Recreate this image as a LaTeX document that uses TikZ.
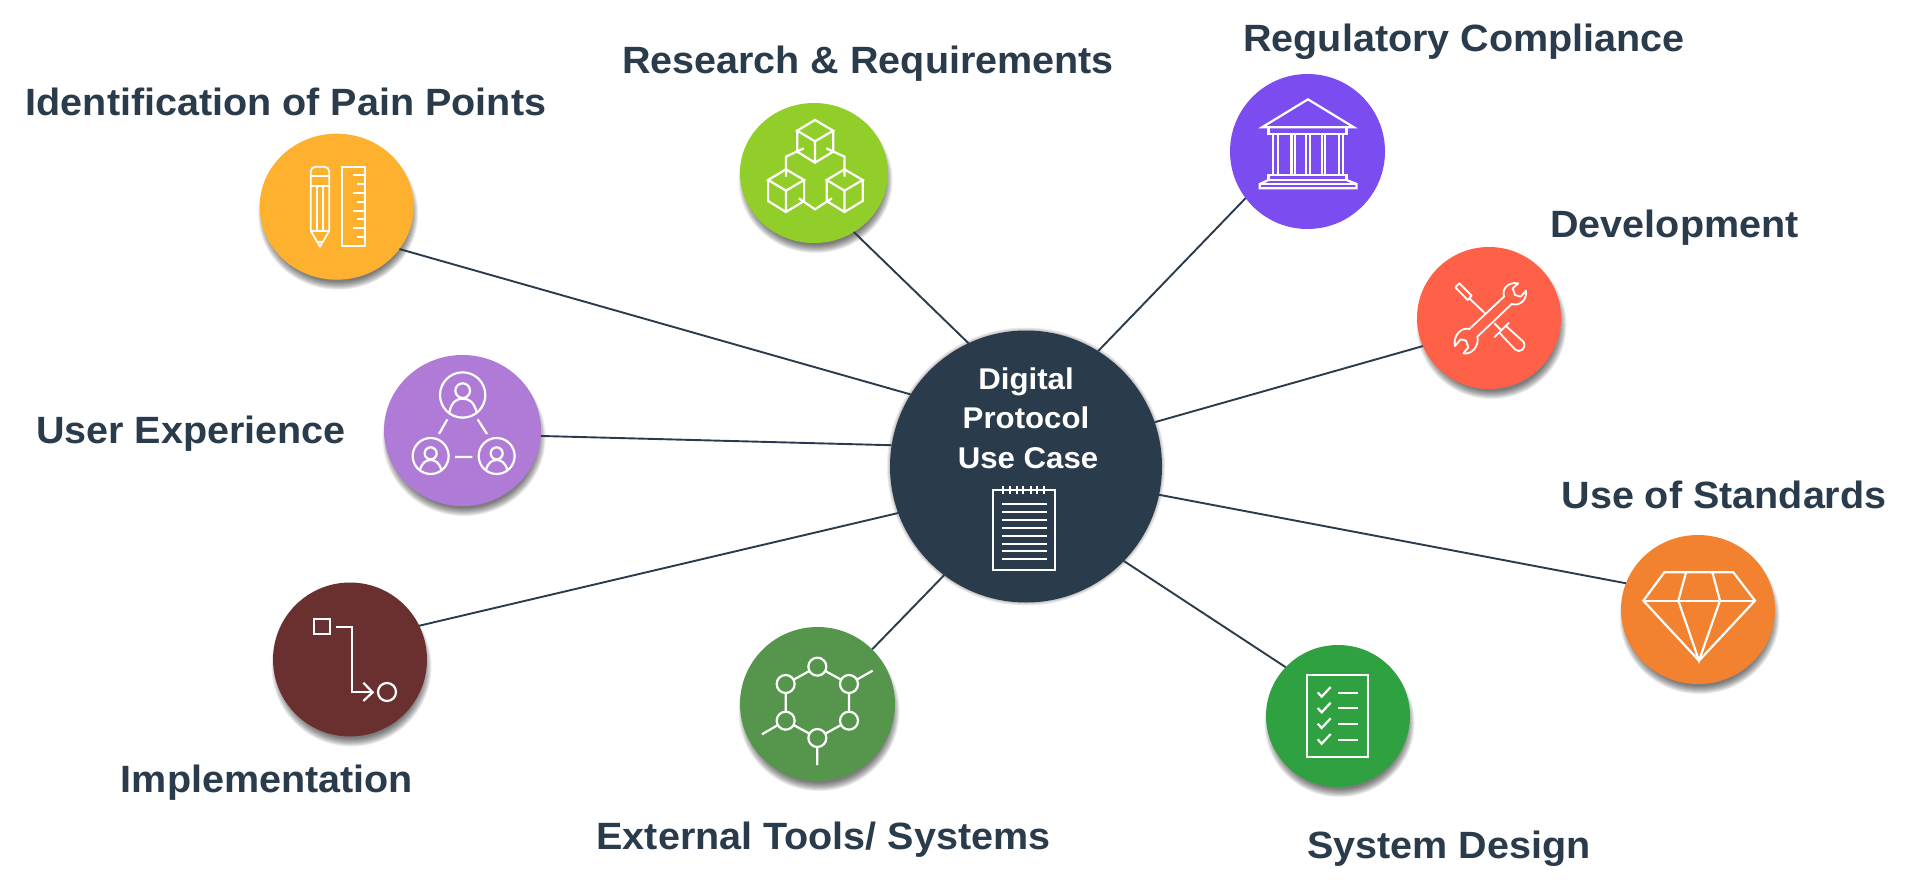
\documentclass[tikz,border=0pt]{standalone}
\usepackage{fontspec}
\setmainfont{Liberation Sans}[BoldFeatures={FakeStretch=1.04}]
\definecolor{ink}{HTML}{2A3B4C}
\definecolor{cOrange}{HTML}{FDB12F}
\definecolor{cPurple}{HTML}{AF7BD6}
\definecolor{cLime}{HTML}{92CE2A}
\definecolor{cViolet}{HTML}{7B4DF0}
\definecolor{cRed}{HTML}{FF6148}
\definecolor{cAmber}{HTML}{F28230}
\definecolor{cGreen}{HTML}{30A140}
\definecolor{cMoss}{HTML}{55964C}
\definecolor{cMaroon}{HTML}{6A3030}
\newcommand{\softshadow}[6]{% x y rx ry xoff yoff
  \foreach \k in {0,1,...,8}{
    \fill[black,opacity=0.075] (#1+#5,#2+#6) ellipse [x radius={#3+3-\k}, y radius={#4+3-\k}];
  }}
\tikzset{
  spoke/.style={draw=ink,line width=1.9pt},
  label/.style={text=ink,font=\fontsize{38}{44}\selectfont\bfseries,inner sep=0pt,anchor=center},
  hubtext/.style={text=white,font=\fontsize{30}{36}\selectfont\bfseries,inner sep=0pt,anchor=center},
  icon/.style={draw=white,line width=2.2pt,line join=miter,fill=none},
  thin icon/.style={draw=white,line width=1.8pt,line join=round,fill=none},
  disc/.style={ellipse,inner sep=0pt,outer sep=0pt,draw=none},
}
\usetikzlibrary{shapes.geometric}
\begin{document}
\begin{tikzpicture}[x=1pt,y=-1pt]
\useasboundingbox (0,0) rectangle (1913,896);
\fill[white] (0,0) rectangle (1913,896);
% shadows
\softshadow{336.7}{206.7}{77}{73}{1.5}{7}
\softshadow{462.5}{430.5}{78.5}{75.5}{1.5}{7}
\softshadow{814}{173}{74}{70}{1.5}{7}
\softshadow{1490}{318}{72}{71}{1.5}{7}
\softshadow{1698}{609.5}{77}{74.5}{1.5}{7}
\softshadow{1338}{716}{72}{71}{1.5}{7}
\softshadow{817.5}{704}{77.5}{77}{1.5}{7}
\softshadow{350}{659.5}{77}{77}{1.5}{7}
\softshadow{1026}{466.5}{136}{136}{0}{0}
% discs
\node[disc,fill=ink,minimum width=272pt,minimum height=272pt] (hub) at (1026,466.5) {};
\node[disc,fill=cOrange,minimum width=154pt,minimum height=146pt] (pain) at (336.7,206.7) {};
\node[disc,fill=cPurple,minimum width=157pt,minimum height=151pt] (ux) at (462.5,430.5) {};
\node[disc,fill=cLime,minimum width=148pt,minimum height=140pt] (research) at (814,173) {};
\node[disc,fill=cViolet,minimum width=155pt,minimum height=155pt] (reg) at (1307.5,151.5) {};
\node[disc,fill=cRed,minimum width=144pt,minimum height=142pt] (dev) at (1489,318) {};
\node[disc,fill=cAmber,minimum width=154pt,minimum height=149pt] (std) at (1698,609.5) {};
\node[disc,fill=cGreen,minimum width=144pt,minimum height=142pt] (sys) at (1338,716) {};
\node[disc,fill=cMoss,minimum width=155pt,minimum height=154pt] (ext) at (817.5,704) {};
\node[disc,fill=cMaroon,minimum width=154pt,minimum height=154pt] (impl) at (350,659.5) {};
% connectors
\draw[spoke] (pain.-34) -- (hub.148.4);
\draw[spoke] (ux.-4.7) -- (hub.171);
\draw[spoke] (research.-56.8) -- (hub.115.5);
\draw[spoke] (reg.217.7) -- (hub.58.9);
\draw[spoke] (dev.203) -- (hub.19.5);
\draw[spoke] (std.160.6) -- (hub.-12.6);
\draw[spoke] (sys.137) -- (hub.-44.9);
\draw[spoke] (ext.45) -- (hub.233);
\draw[spoke] (impl.26.6) -- (hub.200);
% labels
\node[label] (lPain) at (286,102) {Identification of Pain Points};
\node[label] (lRes) at (868,64) {Research \& Requirements};
\node[label] (lReg) at (1464,42) {Regulatory Compliance};
\node[label] (lDev) at (1674.5,228) {Development};
\node[label] (lStd) at (1724,495) {Use of Standards};
\node[label] (lSys) at (1449,849) {System Design};
\node[label] (lExt) at (823.5,840) {External Tools/ Systems};
\node[label] (lImpl) at (267,783) {Implementation};
\node[label] (lUx) at (191,434) {User Experience};
\node[hubtext] (t1) at (1026,382) {Digital};
\node[hubtext] (t2) at (1026,418) {Protocol};
\node[hubtext] (t3) at (1028,458) {Use Case};
% notebook icon
\begin{scope}[shift={(880,320)},x=0.33333pt,y=-0.33333pt]
  \draw[icon] (338,510) rectangle (526,750);
  \foreach \xx in {370,390,410,430,452,472,492} \draw[thin icon] (\xx,497) -- (\xx,522);
  \foreach \yy in {551,575,599,623,647,671,693,717} \draw[thin icon] (367,\yy) -- (500,\yy);
\end{scope}
% pencil and ruler
\begin{scope}[shift={(240,110)},x=0.33333pt,y=-0.33333pt]
  \draw[thin icon] (212,362) -- (212,185) arc[start angle=180,end angle=90,x radius=15,y radius=-15] -- (253,170) arc[start angle=90,end angle=0,x radius=15,y radius=-15] -- (268,362) -- (240,410) -- cycle;
  \draw[thin icon] (212,198) -- (268,198) (212,228) -- (268,228) (232,228) -- (232,360) (248,228) -- (248,360) (212,362) -- (268,362) (232,395) -- (248,395);
  \draw[thin icon] (305,170) rectangle (376,408);
  \foreach \yy/\xx in {195/340,222/352,248/340,275/352,302/340,328/352,355/340,382/352} \draw[thin icon] (376,\yy) -- (\xx,\yy);
\end{scope}
% people
\begin{scope}[shift={(240,110)},x=0.33333pt,y=-0.33333pt]
  \draw[icon] (668,855) circle[radius=68];
  \draw[icon] (668,842) circle[radius=22];
  \draw[icon] (628,907) .. controls (635,875) and (650,866) .. (668,866) .. controls (686,866) and (702,875) .. (710,907);
  \foreach \cx in {572,770}{
    \draw[icon] (\cx,1038) circle[radius=54];
    \draw[icon] (\cx,1030) circle[radius=18];
    \draw[icon] (\cx-32,1080) .. controls (\cx-26,1058) and (\cx-14,1050) .. (\cx,1050) .. controls (\cx+14,1050) and (\cx+26,1058) .. (\cx+32,1080);
  }
  \draw[icon] (622,928) -- (597,972) (713,928) -- (741,972) (645,1041) -- (697,1041);
\end{scope}
% cubes
\begin{scope}[shift={(720,80)},x=0.4336pt,y=-0.33333pt]
  \draw[icon] (219,120) -- (261,152) -- (219,184) -- (178,152) -- cycle;
  \draw[icon] (178,152) -- (178,215) -- (219,248) -- (261,215) -- (261,152) (219,184) -- (219,248);
  \foreach \dx in {-67,68}{
    \draw[icon] (219+\dx,268) -- (261+\dx,300) -- (219+\dx,332) -- (178+\dx,300) -- cycle;
    \draw[icon] (178+\dx,300) -- (178+\dx,363) -- (219+\dx,396) -- (261+\dx,363) -- (261+\dx,300) (219+\dx,332) -- (219+\dx,396);
  }
  \draw[icon] (193,205) -- (152,230) -- (152,290) (245,205) -- (287,230) -- (287,290) (182,355) -- (219,388) -- (258,355);
\end{scope}
% bank
\begin{scope}[shift={(720,80)},x=0.4336pt,y=-0.33333pt]
  \draw[icon] (1250,142) -- (1356,58) -- (1462,142) -- cycle;
  \draw[icon] (1265,142) rectangle (1445,162);
  \foreach \xx in {1276,1286,1318,1326,1351,1361,1388,1396,1428,1437} \draw[icon] (\xx,162) -- (\xx,285);
  \draw[icon] (1265,285) rectangle (1445,300);
  \draw[icon] (1265,300) -- (1245,312) -- (1245,325) -- (1468,325) -- (1468,312) -- (1445,300);
  \draw[icon] (1245,312) -- (1468,312);
\end{scope}
% tools
\begin{scope}[shift={(1400,230)},x=0.33333pt,y=-0.33333pt]
  \draw[thin icon] (178,160) -- (215,197) -- (203,210) -- (166,172) -- cycle;
  \draw[thin icon] (208,205) -- (255,250) (283,280) -- (302,299);
  \draw[thin icon] (283,322) -- (327,278);
  \draw[thin icon] (298,308) -- (345,358) .. controls (358,372) and (382,355) .. (370,335) -- (318,288);
  \draw[thin icon] (208,297) -- (312,200) .. controls (305,175) and (325,155) .. (355,160) -- (338,175) -- (345,195) -- (362,200) -- (378,182) .. controls (382,208) and (360,230) .. (335,222) -- (232,320) .. controls (238,345) and (218,375) .. (190,370) -- (205,352) -- (198,332) -- (182,328) -- (165,348) .. controls (158,320) and (182,290) .. (208,297) -- cycle;
\end{scope}
% diamond
\begin{scope}[shift={(1600,520)},x=0.33333pt,y=-0.33333pt]
  \draw[icon] (193,157) -- (400,157) -- (465,242) -- (297,422) -- (130,242) -- cycle;
  \draw[icon] (130,242) -- (465,242);
  \draw[icon] (258,157) -- (235,242) -- (297,422) -- (360,242) -- (337,157);
\end{scope}
% checklist
\begin{scope}[shift={(1250,630)},x=0.33333pt,y=-0.33333pt]
  \draw[icon] (170,135) rectangle (353,380);
  \foreach \dy in {0,47,94,141}{
    \draw[icon] (203,187+\dy) -- (215,200+\dy) -- (242,171+\dy);
    \draw[icon] (265,188+\dy) -- (323,188+\dy);
  }
\end{scope}
% molecule
\begin{scope}[shift={(720,610)},x=0.33333pt,y=-0.33333pt]
  \draw[icon] (292,170) -- (387,222) -- (387,332) -- (292,384) -- (197,332) -- (197,222) -- cycle;
  \draw[icon] (412,208) -- (458,182) (172,346) -- (126,373) (292,411) -- (292,465);
  \foreach \cx/\cy in {292/170,387/222,387/332,292/384,197/332,197/222}
    \filldraw[icon,fill=cMoss] (\cx,\cy) circle[radius=27];
\end{scope}
% flow
\begin{scope}[shift={(260,570)},x=0.33333pt,y=-0.33333pt]
  \draw[icon] (161,146) rectangle (210,193);
  \draw[icon] (227,170) -- (277,170) -- (277,367) -- (335,367);
  \draw[icon] (310,338) -- (338,367) -- (310,393);
  \draw[icon] (381,366) circle[radius=27];
\end{scope}
\end{tikzpicture}
\end{document}
